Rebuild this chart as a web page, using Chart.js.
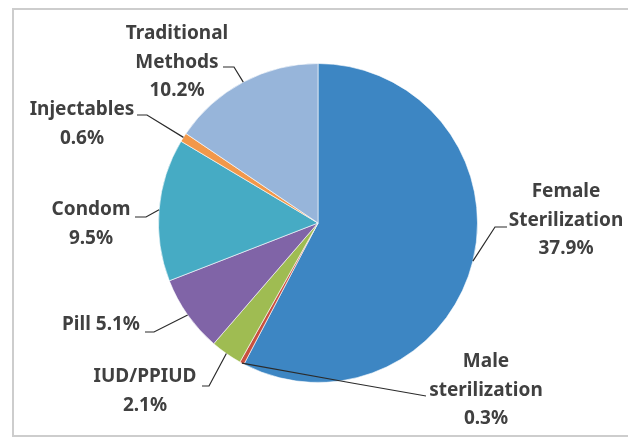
<!DOCTYPE html>
<html>
<head>
<meta charset="utf-8">
<script src="https://cdn.jsdelivr.net/npm/chart.js@4"></script>
<style>
  html, body { margin: 0; padding: 0; background: #fff; overflow: hidden; }
  canvas { display: block; }
</style>
</head>
<body>
<canvas id="methodChart" width="628" height="439"></canvas>
<script>
// data (% of married women using each method)
const methods = ['Female Sterilization', 'Male sterilization', 'IUD/PPIUD', 'Pill', 'Condom', 'Injectables', 'Traditional Methods'];
const shares = [37.9, 0.3, 2.1, 5.1, 9.5, 0.6, 10.2];
const sliceColors = ['#3d86c3', '#c9503f', '#9fbc52', '#8064a7', '#46abc4', '#f2984a', '#97b5da'];

// where each label sits; lines are the label split the way the picture shows it
const labelLayout = [
    { lines: ['Female', 'Sterilization', '%'], x: 566, y: 192, from: [507, 227], elbow: [495, 227] },
    { lines: ['Male', 'sterilization', '%'], x: 486, y: 362, from: [426, 396], elbow: [352, 383] },
    { lines: ['IUD/PPIUD', '%'], x: 145, y: 377, from: [202, 386], elbow: [209, 386] },
    { lines: ['Pill %'], x: 101, y: 325, from: [145, 332], elbow: [154, 332] },
    { lines: ['Condom', '%'], x: 91, y: 210, from: [135, 217], elbow: [146, 217] },
    { lines: ['Injectables', '%'], x: 82, y: 110, from: [137, 115], elbow: [147, 115] },
    { lines: ['Traditional', 'Methods', '%'], x: 177, y: 34, from: [223, 67], elbow: [234, 67] }
];

const frame = {
    id: 'frame',
    beforeDraw(chart) {
        const c = chart.ctx;
        c.save();
        c.strokeStyle = '#cdcdcd';
        c.lineWidth = 2;
        c.beginPath();
        c.moveTo(628, 9);
        c.lineTo(13, 9);
        c.lineTo(13, 436);
        c.lineTo(628, 436);
        c.stroke();
        c.restore();
    }
};

const calloutLabels = {
    id: 'calloutLabels',
    afterDraw(chart) {
        const c = chart.ctx;
        const arcs = chart.getDatasetMeta(0).data;
        c.save();
        arcs.forEach((arc, i) => {
            const lay = labelLayout[i];
            const mid = (arc.startAngle + arc.endAngle) / 2;
            const ax = arc.x + Math.cos(mid) * arc.outerRadius;
            const ay = arc.y + Math.sin(mid) * arc.outerRadius;

            c.strokeStyle = '#2b2b2b';
            c.lineWidth = 1.2;
            c.beginPath();
            c.moveTo(lay.from[0], lay.from[1]);
            c.lineTo(lay.elbow[0], lay.elbow[1]);
            c.lineTo(ax, ay);
            c.stroke();

            c.fillStyle = '#404040';
            c.font = 'bold 19px "Noto Sans"';
            c.textAlign = 'center';
            c.textBaseline = 'middle';
            lay.lines.forEach((line, k) => {
                const txt = line.replace('%', shares[i].toFixed(1) + '%');
                c.fillText(txt, lay.x, lay.y + k * 28.5);
            });
        });
        c.restore();
    }
};

new Chart(document.getElementById('methodChart'), {
    type: 'pie',
    data: {
        labels: methods,
        datasets: [{
            data: shares,
            backgroundColor: sliceColors,
            borderColor: 'rgba(255, 255, 255, 0.6)',
            borderWidth: 1
        }]
    },
    options: {
        responsive: false,
        animation: false,
        layout: {
            padding: { left: 158, right: 150, top: 63, bottom: 56 }
        },
        plugins: {
            legend: { display: false },
            tooltip: { enabled: false }
        }
    },
    plugins: [frame, calloutLabels]
});
</script>
</body>
</html>
